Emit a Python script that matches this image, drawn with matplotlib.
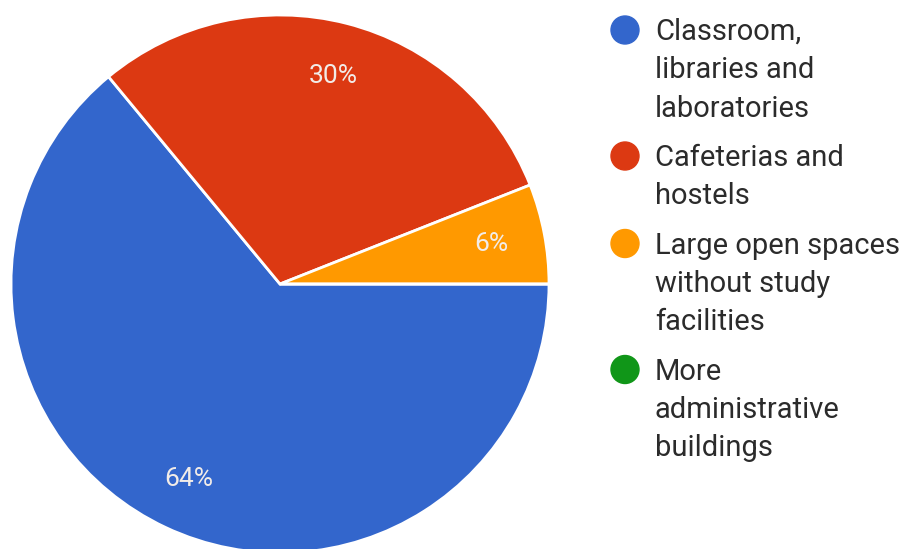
import matplotlib.pyplot as plt
from matplotlib.patches import Ellipse

plt.rcParams["font.family"] = ["Roboto", "DejaVu Sans"]

categories = [
    "Classroom,\nlibraries and\nlaboratories",
    "Cafeterias and\nhostels",
    "Large open spaces\nwithout study\nfacilities",
    "More\nadministrative\nbuildings",
]
shares = [64, 30, 6, 0]
colors = ["#3366cc", "#dc3912", "#ff9900", "#109618"]

W, H = 904, 549
fig = plt.figure(figsize=(W / 100, H / 100), dpi=100)

# pie placed by pixel box: centre (280, 284), radius 269
cx, cy, r = 280, 284, 269
ax = fig.add_axes([(cx - r) / W, (H - cy - r) / H, 2 * r / W, 2 * r / H])
ax.pie(
    shares,
    colors=colors,
    startangle=0,
    counterclock=False,
    autopct=lambda p: f"{p:.0f}%" if p > 0.5 else "",
    pctdistance=0.8,
    textprops=dict(color="#f2ece8", fontsize=19),
    wedgeprops=dict(edgecolor="white", linewidth=2),
)
ax.set_xlim(-1, 1)
ax.set_ylim(-1, 1)
ax.set_aspect("equal")
ax.axis("off")

# legend drawn by hand so the wrapped lines sit where we want them
line_pitch = 38.5
entry_gap = 49
y = 30
for label, color in zip(categories, colors):
    fig.add_artist(
        Ellipse((625 / W, 1 - y / H), 28 / W, 28 / H, transform=fig.transFigure, color=color)
    )
    lines = label.split("\n")
    for i, line in enumerate(lines):
        fig.text(655 / W, 1 - (y + 10) / H, line, fontsize=21,
                 color="#2b2b2b", ha="left", va="baseline")
        if i < len(lines) - 1:
            y += line_pitch
    y += entry_gap

fig.savefig("out.png", dpi=100, facecolor="white")
